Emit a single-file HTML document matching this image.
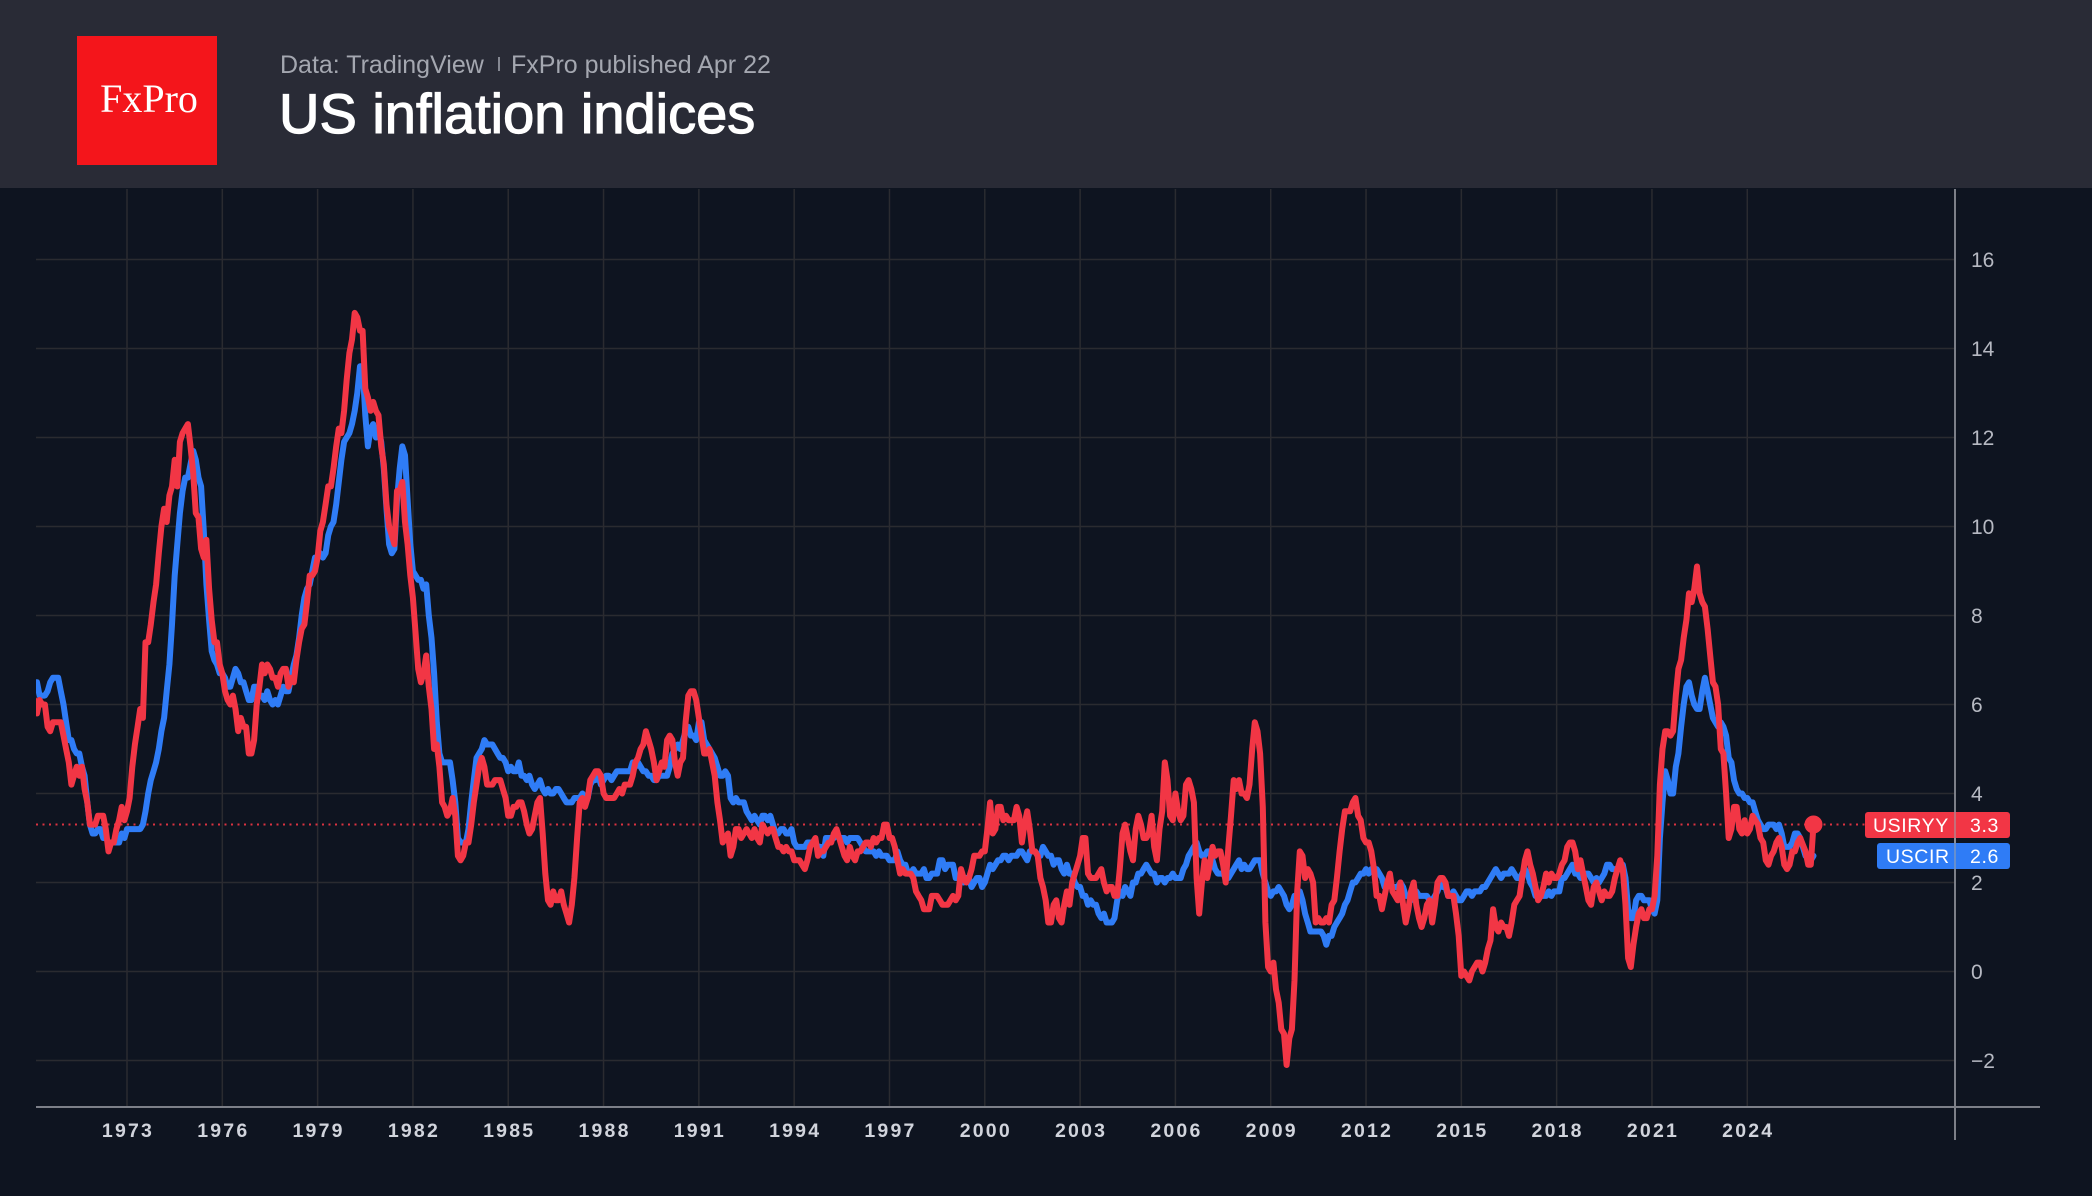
<!DOCTYPE html>
<html><head><meta charset="utf-8"><style>
html,body{margin:0;padding:0;background:#0e1420;}
body{width:2092px;height:1196px;overflow:hidden;}
svg{display:block;}
text{font-family:"Liberation Sans",Arial,sans-serif;}
</style></head><body>
<svg id="s" width="2092" height="1196" viewBox="0 0 2092 1196" xmlns="http://www.w3.org/2000/svg">
<defs><clipPath id="pc"><rect x="36" y="189" width="1919" height="918"/></clipPath></defs>
<rect x="0" y="0" width="2092" height="1196" fill="#0e1420"/>
<rect x="0" y="0" width="2092" height="188" fill="#292b36"/>
<rect x="77" y="36" width="140" height="129" fill="#f4151b"/>
<text x="149" y="112" text-anchor="middle" style="font-family:'Liberation Serif',serif" font-size="40" fill="#ffffff">FxPro</text>
<text x="280" y="73" font-size="25" fill="#a4a7b0">Data: TradingView</text>
<line x1="499" y1="57" x2="499" y2="71" stroke="#a4a7b0" stroke-width="1.5"/>
<text x="511" y="73" font-size="25" fill="#a4a7b0">FxPro published Apr 22</text>
<text x="279" y="133" font-size="56" fill="#ffffff" stroke="#ffffff" stroke-width="1.2">US inflation indices</text>
<g id="grid" stroke="#2a2b30" stroke-width="1.5"></g>
<g id="ylab" font-size="21" fill="#b6b9c2"></g>
<g id="xlab" font-size="19.5" font-weight="bold" fill="#d1d4dc" letter-spacing="2.2" text-anchor="middle"></g>
<line x1="36" y1="824.5" x2="1866" y2="824.5" stroke="#f23645" stroke-width="2" stroke-dasharray="2,4.5" opacity="0.9"/>
<g clip-path="url(#pc)">
<path id="pb" d="" fill="none" stroke="#2f7cf6" stroke-width="6" stroke-linejoin="round" stroke-linecap="round"/>
<path id="pr" d="" fill="none" stroke="#f23645" stroke-width="6" stroke-linejoin="round" stroke-linecap="round"/>
</g>
<circle id="dot" cx="1813" cy="824.5" r="9" fill="#f23645"/>
<line x1="1955" y1="189" x2="1955" y2="1140" stroke="#7c7f88" stroke-width="2"/>
<line x1="36" y1="1107" x2="2040" y2="1107" stroke="#7c7f88" stroke-width="2"/>
<rect x="1865" y="812" width="145" height="26" rx="3" fill="#f23645"/>
<rect x="1877" y="843" width="133" height="26" rx="3" fill="#2f7cf6"/>
<line x1="1955" y1="812" x2="1955" y2="869" stroke="#9aa0aa" stroke-width="1.5" opacity="0.7"/>
<text x="1873" y="832" font-size="19.5" fill="#ffffff" letter-spacing="0.6">USIRYY</text>
<text x="1970" y="832" font-size="19.5" fill="#ffffff" letter-spacing="0.6">3.3</text>
<text x="1886" y="863" font-size="19.5" fill="#ffffff" letter-spacing="0.6">USCIR</text>
<text x="1970" y="863" font-size="19.5" fill="#ffffff" letter-spacing="0.6">2.6</text>
</svg>
<script>
(function(){
var NS="http://www.w3.org/2000/svg";
function Y(v){return 971.5-44.5*v;}
function X(i){return 31.69+i*31.77/12;}
var g=document.getElementById('grid'),yl=document.getElementById('ylab'),xl=document.getElementById('xlab');
for(var v=-2;v<=16;v+=2){
 var l=document.createElementNS(NS,'line');l.setAttribute('x1',36);l.setAttribute('x2',1955);l.setAttribute('y1',Y(v));l.setAttribute('y2',Y(v));g.appendChild(l);
 var t=document.createElementNS(NS,'text');t.setAttribute('x',1971);t.setAttribute('y',Y(v)+7.5);t.textContent=(v<0?'\u2212'+(-v):''+v);yl.appendChild(t);
}
for(var yr=1973;yr<=2024;yr+=3){
 var x=31.69+(yr-1970)*31.77;
 var l2=document.createElementNS(NS,'line');l2.setAttribute('x1',x);l2.setAttribute('x2',x);l2.setAttribute('y1',189);l2.setAttribute('y2',1107);g.appendChild(l2);
 var t2=document.createElementNS(NS,'text');t2.setAttribute('x',x+1);t2.setAttribute('y',1137);t2.textContent=''+yr;xl.appendChild(t2);
}
var H=("6.2,6.1,5.8,6.1,6.0,6.0,5.5,5.4,5.6,5.6,5.6,5.6,"+
"5.3,5.0,4.7,4.2,4.4,4.6,4.4,4.6,4.1,3.8,3.3,3.3,"+
"3.3,3.5,3.5,3.5,3.2,2.7,2.9,2.9,3.2,3.4,3.7,3.4,"+
"3.6,3.9,4.6,5.1,5.5,5.9,5.7,7.4,7.4,7.8,8.3,8.7,"+
"9.4,10.0,10.4,10.1,10.7,10.9,11.5,10.9,11.9,12.1,12.2,12.3,"+
"11.8,11.2,10.3,10.2,9.5,9.3,9.7,8.6,7.9,7.4,7.4,6.9,"+
"6.7,6.3,6.1,6.0,6.2,5.9,5.4,5.7,5.5,5.5,4.9,4.9,"+
"5.2,6.0,6.4,6.9,6.7,6.9,6.8,6.6,6.6,6.4,6.7,6.8,"+
"6.8,6.4,6.6,6.5,7.0,7.4,7.7,7.8,8.3,8.9,8.9,9.0,"+
"9.3,9.9,10.1,10.5,10.9,10.9,11.3,11.8,12.2,12.1,12.6,13.3,"+
"13.9,14.2,14.8,14.7,14.4,14.4,13.1,12.9,12.6,12.8,12.6,12.5,"+
"11.8,11.4,10.5,10.0,9.8,9.6,10.8,10.8,11.0,10.1,9.6,8.9,"+
"8.4,7.6,6.8,6.5,6.7,7.1,6.4,5.9,5.0,5.1,4.6,3.8,"+
"3.7,3.5,3.6,3.9,3.5,2.6,2.5,2.6,2.9,2.9,3.3,3.8,"+
"4.2,4.6,4.8,4.6,4.2,4.2,4.2,4.3,4.3,4.3,4.1,3.9,"+
"3.5,3.5,3.7,3.7,3.8,3.8,3.6,3.3,3.1,3.2,3.5,3.8,"+
"3.9,3.1,2.2,1.6,1.5,1.8,1.6,1.6,1.8,1.5,1.3,1.1,"+
"1.5,2.1,3.0,3.8,3.9,3.7,3.9,4.3,4.4,4.5,4.5,4.4,"+
"4.0,3.9,3.9,3.9,3.9,4.0,4.1,4.0,4.2,4.2,4.2,4.4,"+
"4.7,4.8,5.0,5.1,5.4,5.2,5.0,4.7,4.3,4.5,4.7,4.6,"+
"5.2,5.3,5.2,4.7,4.4,4.7,4.8,5.6,6.2,6.3,6.3,6.1,"+
"5.7,5.3,4.9,4.9,5.0,4.7,4.4,3.8,3.4,2.9,3.0,3.1,"+
"2.6,2.8,3.2,3.2,3.0,3.1,3.2,3.1,3.0,3.2,3.0,2.9,"+
"3.3,3.2,3.1,3.2,3.2,3.0,2.8,2.8,2.7,2.8,2.7,2.7,"+
"2.5,2.5,2.5,2.4,2.3,2.5,2.8,2.9,3.0,2.6,2.7,2.7,"+
"2.8,2.9,2.9,3.1,3.2,3.0,2.8,2.6,2.5,2.8,2.6,2.5,"+
"2.7,2.7,2.8,2.9,2.9,2.8,3.0,2.9,3.0,3.0,3.3,3.3,"+
"3.0,3.0,2.8,2.5,2.2,2.3,2.2,2.2,2.2,2.1,1.8,1.7,"+
"1.6,1.4,1.4,1.4,1.7,1.7,1.7,1.6,1.5,1.5,1.5,1.6,"+
"1.7,1.6,1.7,2.3,2.1,2.0,2.1,2.3,2.6,2.6,2.6,2.7,"+
"2.7,3.2,3.8,3.1,3.2,3.7,3.7,3.4,3.5,3.4,3.4,3.4,"+
"3.7,3.5,2.9,3.3,3.6,3.2,2.7,2.7,2.6,2.1,1.9,1.6,"+
"1.1,1.1,1.5,1.6,1.2,1.1,1.5,1.8,1.5,2.0,2.2,2.4,"+
"2.6,3.0,3.0,2.2,2.1,2.1,2.1,2.2,2.3,2.0,1.8,1.9,"+
"1.9,1.7,1.7,2.3,3.1,3.3,3.0,2.7,2.5,3.2,3.5,3.3,"+
"3.0,3.0,3.1,3.5,2.8,2.5,3.2,3.6,4.7,4.3,3.5,3.4,"+
"4.0,3.6,3.4,3.5,4.2,4.3,4.1,3.8,2.1,1.3,2.0,2.5,"+
"2.1,2.4,2.8,2.6,2.7,2.7,2.4,2.0,2.8,3.5,4.3,4.1,"+
"4.3,4.0,4.0,3.9,4.2,5.0,5.6,5.4,4.9,3.7,1.1,0.1,"+
"0.0,0.2,-0.4,-0.7,-1.3,-1.4,-2.1,-1.5,-1.3,-0.2,1.8,2.7,"+
"2.6,2.1,2.3,2.2,2.0,1.1,1.2,1.1,1.1,1.2,1.1,1.5,"+
"1.6,2.1,2.7,3.2,3.6,3.6,3.6,3.8,3.9,3.5,3.4,3.0,"+
"2.9,2.9,2.7,2.3,1.7,1.7,1.4,1.7,2.0,2.2,1.8,1.7,"+
"1.6,2.0,1.5,1.1,1.4,1.8,2.0,1.5,1.2,1.0,1.2,1.5,"+
"1.6,1.1,1.5,2.0,2.1,2.1,2.0,1.7,1.7,1.7,1.3,0.8,"+
"-0.1,0.0,-0.1,-0.2,0.0,0.1,0.2,0.2,0.0,0.2,0.5,0.7,"+
"1.4,1.0,0.9,1.1,1.0,1.0,0.8,1.1,1.5,1.6,1.7,2.1,"+
"2.5,2.7,2.4,2.2,1.9,1.6,1.7,1.9,2.2,2.0,2.2,2.1,"+
"2.1,2.2,2.4,2.5,2.8,2.9,2.9,2.7,2.3,2.5,2.2,1.9,"+
"1.6,1.5,1.9,2.0,1.8,1.6,1.8,1.7,1.7,1.8,2.1,2.3,"+
"2.5,2.3,1.5,0.3,0.1,0.6,1.0,1.3,1.4,1.2,1.2,1.4,"+
"1.4,1.7,2.6,4.2,5.0,5.4,5.4,5.3,5.4,6.2,6.8,7.0,"+
"7.5,7.9,8.5,8.3,8.6,9.1,8.5,8.3,8.2,7.7,7.1,6.5,"+
"6.4,6.0,5.0,4.9,4.0,3.0,3.2,3.7,3.7,3.2,3.1,3.4,"+
"3.1,3.2,3.5,3.4,3.3,3.0,2.9,2.5,2.4,2.6,2.7,2.9,"+
"3.0,2.8,2.4,2.3,2.4,2.7,2.7,2.9,3.0,n,2.7,2.4,"+
"2.4,3.3").split(',');
var C=("6.1,6.5,6.5,6.2,6.2,6.2,6.3,6.5,6.6,6.6,6.6,6.3,"+
"6.0,5.6,5.2,5.2,5.0,4.9,4.9,4.6,4.4,3.8,3.3,3.1,"+
"3.1,3.2,3.2,3.0,3.0,2.9,2.9,2.9,2.9,2.9,3.1,3.0,"+
"3.2,3.2,3.2,3.2,3.2,3.2,3.3,3.6,4.0,4.3,4.5,4.7,"+
"5.0,5.4,5.7,6.3,6.9,7.8,8.9,9.6,10.3,10.8,11.1,11.1,"+
"11.4,11.7,11.5,11.1,10.9,9.9,8.7,7.9,7.2,7.0,6.9,6.7,"+
"6.7,6.6,6.4,6.4,6.6,6.8,6.7,6.5,6.5,6.3,6.1,6.1,"+
"6.4,6.4,6.2,6.2,6.1,6.3,6.1,6.0,6.1,6.0,6.2,6.4,"+
"6.3,6.3,6.6,6.9,7.1,7.5,8.0,8.4,8.6,8.7,9.0,9.3,"+
"9.3,9.4,9.3,9.4,9.8,10.0,10.1,10.5,11.0,11.5,11.9,12.0,"+
"12.1,12.3,12.6,13.0,13.6,13.6,12.5,11.8,12.2,12.3,12.0,12.2,"+
"11.9,11.3,10.4,9.6,9.4,9.5,10.6,11.3,11.8,11.6,10.6,9.6,"+
"9.0,8.9,8.8,8.8,8.6,8.7,8.0,7.5,6.7,5.6,4.9,4.7,"+
"4.7,4.7,4.7,4.3,3.8,3.0,2.9,2.9,2.9,3.2,3.8,4.3,"+
"4.8,4.9,5.0,5.2,5.1,5.1,5.1,5.0,4.9,4.8,4.8,4.7,"+
"4.5,4.6,4.5,4.5,4.7,4.4,4.4,4.3,4.4,4.2,4.1,4.2,"+
"4.3,4.1,4.0,4.1,4.0,4.0,4.1,4.1,4.0,3.9,3.8,3.8,"+
"3.8,3.9,3.9,3.9,4.0,3.9,3.9,4.2,4.3,4.3,4.4,4.2,"+
"4.3,4.4,4.4,4.3,4.4,4.5,4.5,4.5,4.5,4.5,4.5,4.7,"+
"4.6,4.7,4.6,4.5,4.5,4.4,4.4,4.3,4.3,4.4,4.4,4.4,"+
"4.4,4.6,4.9,5.0,5.1,5.0,5.2,5.4,5.5,5.3,5.3,5.2,"+
"5.6,5.6,5.2,5.1,5.0,4.9,4.8,4.6,4.4,4.4,4.5,4.4,"+
"3.9,3.8,3.9,3.8,3.8,3.8,3.6,3.5,3.4,3.5,3.4,3.3,"+
"3.5,3.5,3.4,3.5,3.3,3.1,3.1,3.2,3.2,3.1,3.1,3.2,"+
"2.9,2.8,2.8,2.8,2.8,2.9,2.9,2.9,2.9,2.8,2.8,2.6,"+
"3.0,3.0,3.0,3.0,3.1,3.0,3.0,3.0,2.9,3.0,3.0,3.0,"+
"3.0,2.9,2.8,2.7,2.7,2.7,2.7,2.6,2.7,2.6,2.6,2.6,"+
"2.5,2.5,2.5,2.7,2.5,2.4,2.4,2.2,2.2,2.3,2.2,2.2,"+
"2.2,2.3,2.1,2.1,2.2,2.2,2.2,2.5,2.5,2.3,2.4,2.4,"+
"2.4,2.1,2.1,2.2,2.0,2.1,2.1,1.9,2.0,2.1,2.1,1.9,"+
"2.0,2.2,2.4,2.3,2.4,2.5,2.5,2.6,2.6,2.5,2.6,2.6,"+
"2.6,2.7,2.7,2.6,2.5,2.7,2.7,2.7,2.6,2.6,2.8,2.7,"+
"2.6,2.6,2.4,2.5,2.5,2.3,2.2,2.4,2.2,2.2,2.0,1.9,"+
"1.9,1.7,1.7,1.5,1.6,1.5,1.5,1.3,1.2,1.3,1.1,1.1,"+
"1.1,1.2,1.6,1.8,1.7,1.9,1.8,1.7,2.0,2.0,2.2,2.2,"+
"2.3,2.4,2.3,2.2,2.2,2.0,2.1,2.1,2.0,2.1,2.1,2.2,"+
"2.1,2.1,2.1,2.3,2.4,2.6,2.7,2.8,2.9,2.7,2.6,2.6,"+
"2.7,2.7,2.5,2.3,2.2,2.2,2.2,2.1,2.1,2.2,2.3,2.4,"+
"2.5,2.3,2.4,2.3,2.3,2.4,2.5,2.5,2.5,2.2,2.0,1.8,"+
"1.7,1.8,1.8,1.9,1.8,1.7,1.5,1.4,1.5,1.7,1.7,1.8,"+
"1.6,1.3,1.1,0.9,0.9,0.9,0.9,0.9,0.8,0.6,0.8,0.8,"+
"1.0,1.1,1.2,1.3,1.5,1.6,1.8,2.0,2.0,2.1,2.2,2.2,"+
"2.3,2.2,2.3,2.3,2.3,2.2,2.1,1.9,2.0,2.0,1.9,1.9,"+
"1.9,2.0,1.9,1.7,1.7,1.6,1.7,1.8,1.7,1.7,1.7,1.7,"+
"1.6,1.6,1.7,1.8,2.0,1.9,1.9,1.7,1.7,1.8,1.7,1.6,"+
"1.6,1.7,1.8,1.8,1.7,1.8,1.8,1.8,1.9,1.9,2.0,2.1,"+
"2.2,2.3,2.2,2.1,2.2,2.2,2.2,2.3,2.2,2.1,2.1,2.2,"+
"2.3,2.2,2.0,1.9,1.7,1.7,1.7,1.7,1.7,1.8,1.7,1.8,"+
"1.8,1.8,2.1,2.1,2.2,2.3,2.4,2.2,2.2,2.1,2.2,2.2,"+
"2.2,2.1,2.0,2.1,2.0,2.1,2.2,2.4,2.4,2.3,2.3,2.3,"+
"2.3,2.4,2.1,1.4,1.2,1.2,1.6,1.7,1.7,1.6,1.6,1.6,"+
"1.4,1.3,1.6,3.0,3.8,4.5,4.3,4.0,4.0,4.6,4.9,5.5,"+
"6.0,6.4,6.5,6.2,6.0,5.9,5.9,6.3,6.6,6.3,6.0,5.7,"+
"5.6,5.5,5.6,5.5,5.3,4.8,4.7,4.3,4.1,4.0,4.0,3.9,"+
"3.9,3.8,3.8,3.6,3.4,3.3,3.2,3.2,3.3,3.3,3.3,3.2,"+
"3.3,3.1,2.8,2.8,2.8,2.9,3.1,3.1,3.0,n,2.6,2.6,"+
"2.5,2.6").split(',');
function P(a){var d='',s=false;for(var i=0;i<a.length;i++){if(a[i]==='n')continue;var v=parseFloat(a[i]);d+=(s?'L':'M')+X(i).toFixed(1)+','+Y(v).toFixed(1);s=true;}return d;}
document.getElementById('pb').setAttribute('d',P(C));
document.getElementById('pr').setAttribute('d',P(H));
document.getElementById('dot').setAttribute('cx',X(H.length-1).toFixed(1));
})();
</script>
</body></html>
